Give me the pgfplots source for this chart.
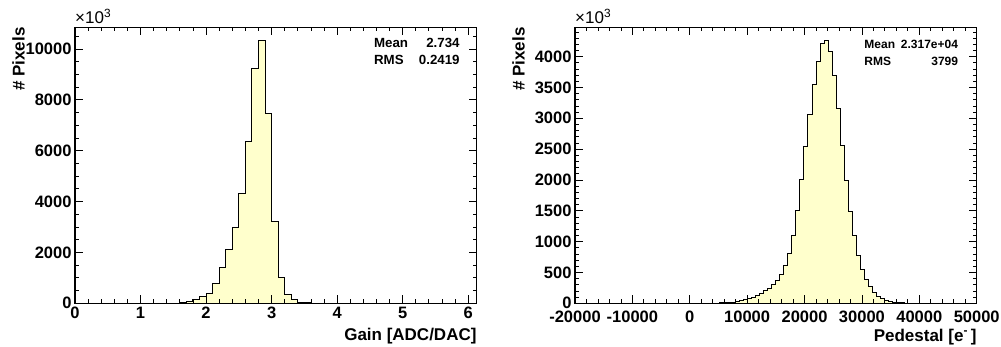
\documentclass[border=0pt]{standalone}
\usepackage{fontspec}
\setmainfont{Liberation Sans}
\usepackage{pgfplots}
\pgfplotsset{compat=1.18}
\definecolor{histfill}{RGB}{255,255,204}
\pgfplotsset{
  rootstyle/.style={
    scale only axis, width=401.7pt, height=276pt,
    axis on top, clip=false,
    axis line style={line width=1.3pt},
    major tick length=8pt, minor tick length=4pt,
    tick style={black, line width=0.8pt},
    tick align=inside,
    scaled ticks=false,
    xticklabel style={anchor=base, inner sep=0pt, font=\fontsize{16.5}{16.5}\selectfont\bfseries},
    yticklabel style={anchor=east, inner sep=0pt, xshift=-3.3pt, font=\fontsize{16.5}{16.5}\selectfont\bfseries},
    label style={font=\fontsize{17}{17}\selectfont\bfseries, inner sep=0pt},
    xlabel style={at={(axis description cs:1,-0.133)}, anchor=base east},
    ylabel style={at={(axis description cs:-0.1245,1)}, anchor=south east},
    ylabel={\# Pixels},
  }
}
\begin{document}
\begin{tikzpicture}[x=1pt,y=1pt]
\useasboundingbox (0,0) rectangle (1001,347);
% ---------------- left panel ----------------
\begin{axis}[rootstyle,
  at={(75pt,43.7pt)}, anchor=south west,
  xmin=0, xmax=6.13, ymin=0, ymax=10850,
  xtick={0,1,2,3,4,5,6}, xticklabels={0,1,2,3,4,5,6},
  minor xtick={0,0.2,...,6.1},
  ytick={0,2000,4000,6000,8000,10000},
  yticklabels={0,2000,4000,6000,8000,10000},
  minor ytick={0,500,...,10500},
  xticklabel style={yshift=-15.5pt},
  xlabel={Gain [ADC/DAC]},
]
\addplot[const plot mark left, fill=histfill, draw=black, line width=1pt] coordinates {
(0,0) (1.5,8) (1.6,25) (1.7,65) (1.8,130) (1.9,250) (2.0,390) (2.1,770)
(2.2,1390) (2.3,2100) (2.4,2975) (2.5,4325) (2.6,6356) (2.7,9214) (2.8,10340)
(2.9,7470) (3.0,3224) (3.1,1022) (3.2,341) (3.3,131) (3.4,40) (3.5,12) (3.6,0) (6.1,0)
} \closedcycle;
\node[anchor=base west, inner sep=0pt, font=\fontsize{17}{17}\selectfont] at (axis description cs:0,1.012) {×10\textsuperscript{3}};
\node[anchor=base west, inner sep=0pt, font=\fontsize{13.3}{13.3}\selectfont\bfseries] at (axis description cs:0.744,0.925) {Mean};
\node[anchor=base east, inner sep=0pt, font=\fontsize{13.3}{13.3}\selectfont\bfseries] at (axis description cs:0.958,0.925) {2.734};
\node[anchor=base west, inner sep=0pt, font=\fontsize{13.3}{13.3}\selectfont\bfseries] at (axis description cs:0.744,0.866) {RMS};
\node[anchor=base east, inner sep=0pt, font=\fontsize{13.3}{13.3}\selectfont\bfseries] at (axis description cs:0.958,0.866) {0.2419};
\end{axis}
% ---------------- right panel ----------------
\begin{axis}[rootstyle,
  at={(575pt,43.7pt)}, anchor=south west,
  xmin=-20000, xmax=50000, ymin=0, ymax=4475,
  xtick={-20000,-10000,0,10000,20000,30000,40000,50000},
  xticklabels={-20000,-10000,0,10000,20000,30000,40000,50000},
  minor xtick={-20000,-18000,...,50000},
  ytick={0,500,1000,1500,2000,2500,3000,3500,4000},
  yticklabels={0,500,1000,1500,2000,2500,3000,3500,4000},
  minor ytick={0,100,...,4400},
  xticklabel style={yshift=-19pt},
  xlabel style={at={(axis description cs:1,-0.137)}},
  xlabel={Pedestal [e\textsuperscript{-}\,]},
]
\addplot[const plot mark left, fill=histfill, draw=black, line width=1pt] coordinates {
(-20000,0)
(1000,1) (1700,1) (2400,2) (3100,2) (3800,3) (4500,4) (5200,6) (5900,9) (6600,14)
(7300,21) (8000,31) (8700,43) (9400,59) (10100,75) (10800,97) (11500,124) (12200,160)
(12900,200) (13600,243) (14300,297) (15000,375) (15700,459) (16400,605) (17100,800)
(17800,1100) (18500,1503) (19200,2000) (19900,2540) (20600,3054) (21300,3540)
(22000,3925) (22700,4210) (23400,4262) (24100,4081) (24800,3692) (25500,3155)
(26200,2557) (26900,1998) (27600,1490) (28300,1092) (29000,775) (29700,550)
(30400,385) (31100,265) (31800,180) (32500,115) (33200,72) (33900,45) (34600,28)
(35300,17) (36000,10) (36700,6) (37400,3) (38100,2) (38800,0) (50000,0)
} \closedcycle;
\node[anchor=base west, inner sep=0pt, font=\fontsize{17}{17}\selectfont] at (axis description cs:0,1.012) {×10\textsuperscript{3}};
\node[anchor=base west, inner sep=0pt, font=\fontsize{12}{12}\selectfont\bfseries] at (axis description cs:0.720,0.923) {Mean};
\node[anchor=base east, inner sep=0pt, font=\fontsize{12}{12}\selectfont\bfseries] at (axis description cs:0.954,0.923) {2.317e+04};
\node[anchor=base west, inner sep=0pt, font=\fontsize{12}{12}\selectfont\bfseries] at (axis description cs:0.720,0.860) {RMS};
\node[anchor=base east, inner sep=0pt, font=\fontsize{12}{12}\selectfont\bfseries] at (axis description cs:0.954,0.860) {3799};
\end{axis}
\end{tikzpicture}
\end{document}
